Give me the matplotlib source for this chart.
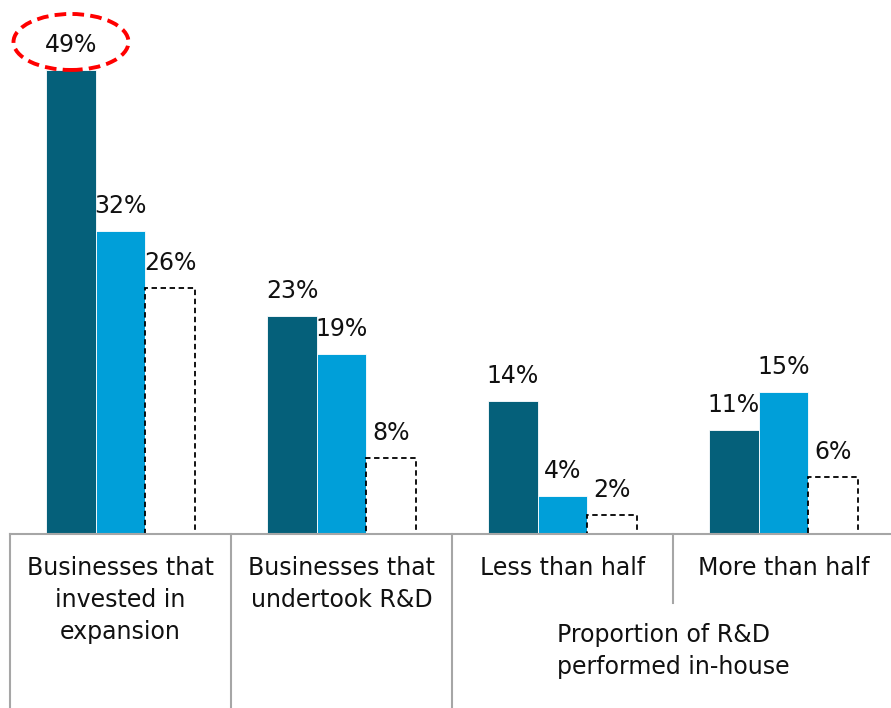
import matplotlib.pyplot as plt
from matplotlib.patches import Ellipse
import numpy as np

# Data
categories = ["Businesses that\ninvested in\nexpansion",
              "Businesses that\nundertook R&D",
              "Less than half",
              "More than half"]
group_label = "Proportion of R&D\nperformed in-house"
series_a = [49, 23, 14, 11]
series_b = [32, 19, 4, 15]
series_c = [26, 8, 2, 6]

dark = '#05607A'
blue = '#009FD9'
grey = '#A6A6A6'

plt.rcParams['font.family'] = 'DejaVu Sans'

fig = plt.figure(figsize=(8.91, 7.08), dpi=100)
W, H = 891, 708
ax_left, ax_right = 10, 894
base_y = 534
ytop = 56
px_per_unit = 9.47
ax_h = ytop * px_per_unit
ax = fig.add_axes([ax_left / W, (H - base_y) / H, (ax_right - ax_left) / W, ax_h / H])

x = np.arange(len(categories))
bw = 0.223
off = 0.224

b1 = ax.bar(x - off, series_a, bw, color=dark, edgecolor='white', linewidth=0.6)
b2 = ax.bar(x, series_b, bw, color=blue, edgecolor='white', linewidth=0.6)
b3 = ax.bar(x + off, series_c, bw, color='white', edgecolor='black',
            linewidth=1.3, linestyle=(0, (3, 2)))

for bars, vals in [(b1, series_a), (b2, series_b), (b3, series_c)]:
    for rect, v in zip(bars, vals):
        ax.annotate(f"{v}%", (rect.get_x() + rect.get_width() / 2, v),
                    xytext=(0, 25), textcoords='offset pixels',
                    ha='center', va='center', fontsize=17, color='#111111')

# highlight on the top value
ell = Ellipse((x[0] - off, series_a[0] + 28 / px_per_unit),
              width=115 / 221, height=56 / px_per_unit,
              fill=False, edgecolor='#FF0000', linewidth=2.8,
              linestyle=(0, (3, 1.6)), clip_on=False, zorder=5)
ax.add_patch(ell)

ax.set_xlim(-0.5, len(categories) - 0.5)
ax.set_ylim(0, ytop)
for s in ['top', 'right', 'left']:
    ax.spines[s].set_visible(False)
ax.spines['bottom'].set_color(grey)
ax.spines['bottom'].set_linewidth(1.5)
ax.set_xticks([])
ax.set_yticks([])

# multi-level category axis
tr = ax.get_xaxis_transform()
full = -(H - base_y) / ax_h
short = -(603 - base_y) / ax_h
for sx in [-0.5, 0.5, 1.5]:
    ax.plot([sx, sx], [0, full], color=grey, lw=1.5, transform=tr, clip_on=False)
ax.plot([2.5, 2.5], [0, short], color=grey, lw=1.5, transform=tr, clip_on=False)

for i, lab in enumerate(categories):
    ax.annotate(lab, (x[i], 0), xycoords=tr, xytext=(0, -22),
                textcoords='offset pixels', ha='center', va='top',
                fontsize=17, color='#111111', linespacing=1.43)
ax.annotate(group_label, (2.5, 0), xycoords=tr, xytext=(0, -89),
            textcoords='offset pixels', ha='center', va='top',
            multialignment='left', fontsize=17, color='#111111', linespacing=1.43)

fig.savefig('out.png', dpi=100)
